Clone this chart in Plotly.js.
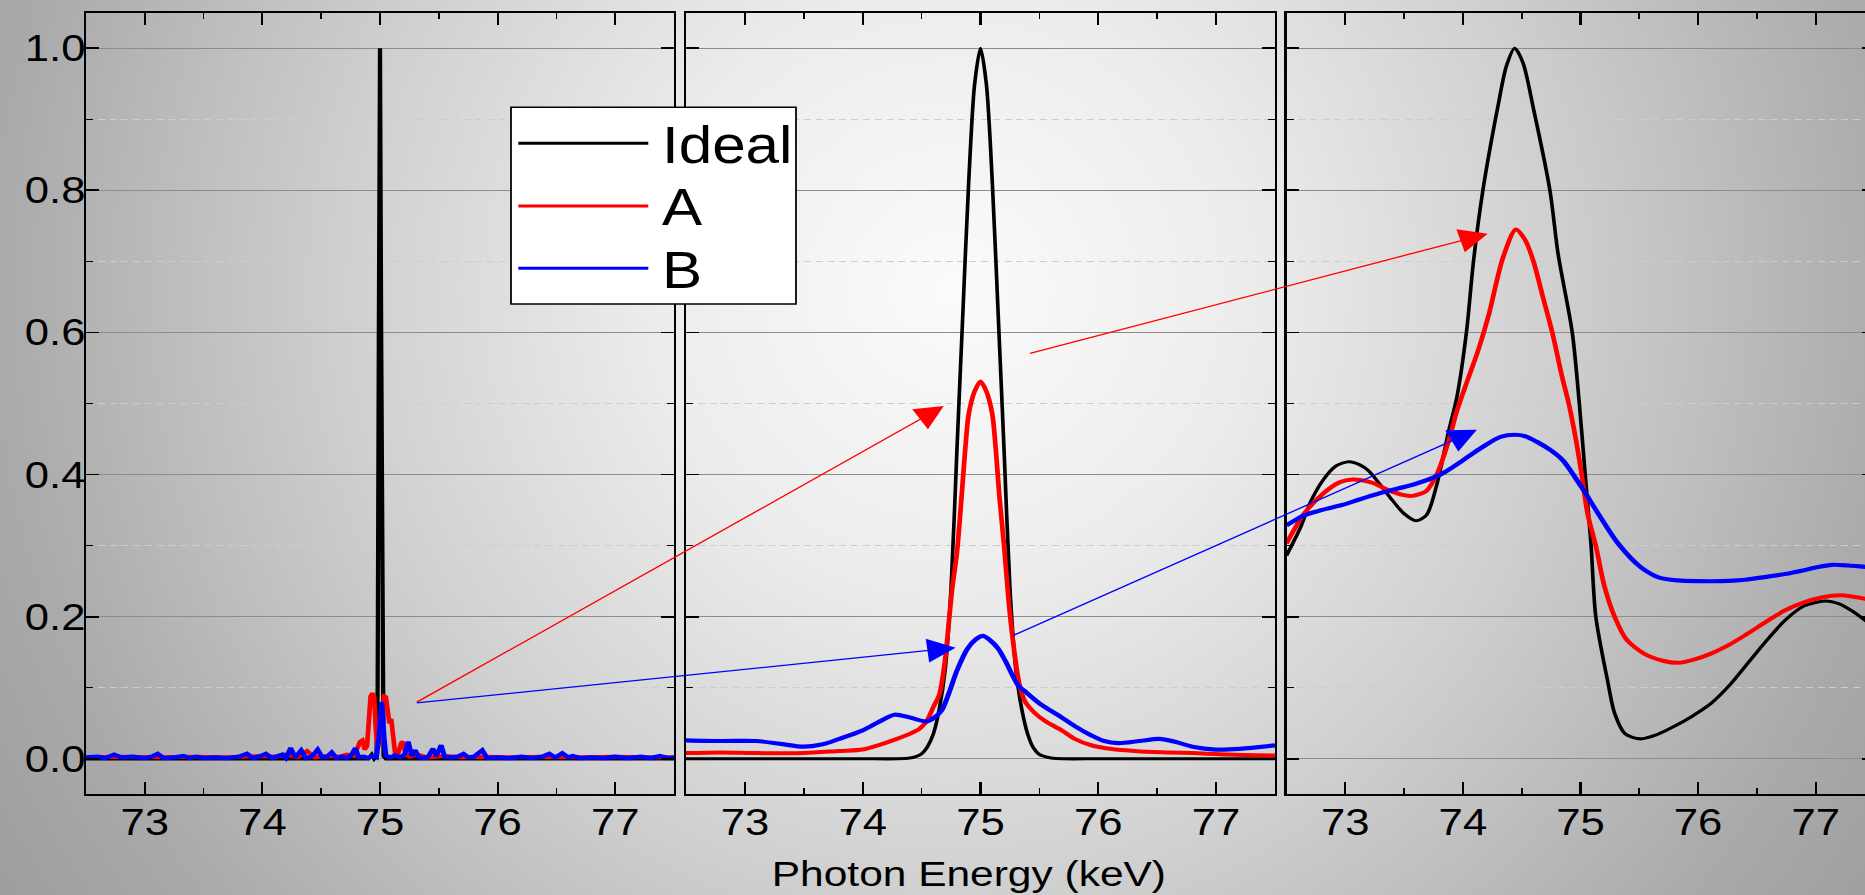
<!DOCTYPE html>
<html>
<head>
<meta charset="utf-8">
<script src="https://cdn.plot.ly/plotly-3.0.1.min.js"></script>
<style>
  html, body { margin: 0; padding: 0; overflow: hidden; background: #999; }
  #wrap {
    position: relative; width: 1865px; height: 895px; overflow: hidden;
    background: radial-gradient(circle at 950px 290px, #fbfbfb 0px, #ececec 300px, #d0d0d0 600px, #aaaaaa 950px, #959595 1250px);
  }
  #chart {
    position: absolute; left: 0; top: 0; width: 1590px; height: 895px;
    transform: scaleX(1.18); transform-origin: 0 0;
  }
</style>
</head>
<body>
<div id="wrap"><div id="chart"></div></div>
<script>
// ---------------- data ----------------
// Panel 1 – raw spectra
const p1IdealE = [72.5, 74.9, 74.93, 74.95, 74.97, 74.98, 74.99, 75.0, 75.01, 75.02, 75.03, 75.05, 75.1, 77.5];
const p1Ideal  = [0, 0, 0.006, 0, 0.004, 0.1, 0.6, 1.0, 0.6, 0.1, 0.004, 0, 0, 0];

const p1AE = [72.5, 72.8, 73.1, 73.4, 73.7, 74.0, 74.12, 74.2, 74.3, 74.38, 74.44, 74.55, 74.65, 74.72, 74.78,
  74.81, 74.83, 74.85, 74.87, 74.89, 74.905, 74.92, 74.935, 74.95, 74.965, 74.98, 75.0, 75.02, 75.035, 75.05,
  75.065, 75.08, 75.095, 75.11, 75.13, 75.155, 75.18, 75.195, 75.215, 75.25, 75.32, 75.4, 75.55, 75.7, 75.9,
  76.1, 76.4, 76.7, 77.0, 77.3, 77.5];
const p1A = [0.002, 0.003, 0.002, 0.003, 0.002, 0.004, 0.003, 0.006, 0.002, 0.011, 0.002, 0.004, 0.003, 0.006, 0.004,
  0.018, 0.024, 0.026, 0.013, 0.018, 0.06, 0.088, 0.092, 0.088, 0.04, 0.015, 0.03, 0.07, 0.088, 0.087,
  0.062, 0.05, 0.056, 0.032, 0.006, 0.008, 0.022, 0.024, 0.008, 0.003, 0.006, 0.002, 0.004, 0.002, 0.003,
  0.002, 0.003, 0.002, 0.003, 0.002, 0.002];

const p1BE = [72.5, 72.6, 72.66, 72.74, 72.8, 72.9, 73.0, 73.06, 73.11, 73.16, 73.25, 73.33, 73.38, 73.44, 73.5,
  73.6, 73.7, 73.8, 73.87, 73.92, 73.97, 74.03, 74.08, 74.13, 74.17, 74.2, 74.24, 74.28, 74.33, 74.37, 74.42,
  74.47, 74.51, 74.55, 74.59, 74.63, 74.68, 74.72, 74.76, 74.79, 74.82, 74.86, 74.9, 74.94, 74.97, 74.99,
  75.015, 75.035, 75.05, 75.09, 75.13, 75.17, 75.21, 75.24, 75.27, 75.3, 75.33, 75.37, 75.41, 75.45, 75.48,
  75.52, 75.55, 75.6, 75.66, 75.71, 75.75, 75.8, 75.87, 75.91, 76.0, 76.1, 76.2, 76.3, 76.38, 76.44, 76.49,
  76.55, 76.6, 76.64, 76.7, 76.8, 76.9, 77.0, 77.1, 77.22, 77.3, 77.38, 77.45, 77.5];
const p1B = [0.002, 0.003, 0.001, 0.006, 0.002, 0.003, 0.001, 0.003, 0.007, 0.001, 0.002, 0.004, 0.001, 0.003, 0.001,
  0.002, 0.001, 0.003, 0.007, 0.001, 0.003, 0.007, 0.001, 0.003, 0.006, 0.001, 0.015, 0.002, 0.012, 0.001, 0.003,
  0.013, 0.002, 0.003, 0.009, 0.001, 0.003, 0.001, 0.006, 0.015, 0.002, 0.003, 0.001, 0.004, 0.002, 0.03,
  0.08, 0.03, 0.004, 0.002, 0.005, 0.002, 0.006, 0.024, 0.004, 0.012, 0.002, 0.001, 0.003, 0.014, 0.004,
  0.019, 0.003, 0.002, 0.003, 0.007, 0.002, 0.003, 0.012, 0.001, 0.002, 0.001, 0.003, 0.001, 0.003, 0.007, 0.002,
  0.008, 0.002, 0.004, 0.001, 0.002, 0.001, 0.003, 0.001, 0.003, 0.001, 0.004, 0.001, 0.002];

// Panel 2 – first smoothing
const p2IdealE = [72.5, 73.0, 73.5, 74.0, 74.3, 74.4, 74.45, 74.5, 74.55, 74.6, 74.65, 74.7, 74.75, 74.8, 74.85,
  74.9, 74.95, 75.0, 75.05, 75.1, 75.15, 75.2, 75.25, 75.3, 75.35, 75.4, 75.45, 75.5, 75.55, 75.6, 75.7, 76.0,
  76.5, 77.0, 77.5];
const p2Ideal = [0, 0, 0, 0, 0, 0.001, 0.003, 0.007, 0.017, 0.035, 0.07, 0.125, 0.24, 0.435, 0.626,
  0.812, 0.949, 1.0, 0.949, 0.812, 0.626, 0.435, 0.24, 0.125, 0.07, 0.035, 0.015, 0.006, 0.003, 0.001, 0, 0,
  0, 0, 0];

const p2AE = [72.5, 72.8, 73.1, 73.5, 73.8, 74.0, 74.15, 74.29, 74.41, 74.48, 74.54, 74.6, 74.65, 74.7, 74.73,
  74.76, 74.8, 74.84, 74.87, 74.9, 74.95, 75.0, 75.05, 75.1, 75.13, 75.16, 75.2, 75.24, 75.28, 75.33, 75.38,
  75.47, 75.55, 75.69, 75.8, 75.94, 76.1, 76.33, 76.6, 76.8, 77.1, 77.5];
const p2A = [0.008, 0.009, 0.008, 0.008, 0.011, 0.013, 0.02, 0.028, 0.036, 0.042, 0.052, 0.073, 0.09, 0.14, 0.19,
  0.24, 0.29, 0.37, 0.435, 0.485, 0.517, 0.531, 0.517, 0.485, 0.435, 0.37, 0.3, 0.22, 0.16, 0.105, 0.08,
  0.063, 0.053, 0.04, 0.028, 0.019, 0.014, 0.0106, 0.009, 0.008, 0.006, 0.0046];

const p2BE = [72.5, 72.8, 73.1, 73.3, 73.5, 73.65, 73.8, 74.0, 74.15, 74.27, 74.4, 74.54, 74.6, 74.67, 74.73,
  74.8, 74.89, 74.96, 75.02, 75.08, 75.15, 75.21, 75.27, 75.32, 75.37, 75.5, 75.69, 75.8, 75.94, 76.05, 76.17,
  76.35, 76.52, 76.65, 76.8, 77.0, 77.2, 77.5];
const p2B = [0.026, 0.025, 0.025, 0.021, 0.017, 0.02, 0.028, 0.04, 0.053, 0.062, 0.058, 0.0525, 0.057, 0.068, 0.0915,
  0.124, 0.155, 0.168, 0.173, 0.167, 0.155, 0.138, 0.118, 0.103, 0.096, 0.078, 0.058, 0.046, 0.033, 0.025, 0.022,
  0.025, 0.028, 0.024, 0.017, 0.013, 0.014, 0.019];

// Panel 3 – second smoothing
const p3IdealE = [72.5, 72.62, 72.7, 72.81, 72.92, 73.03, 73.12, 73.2, 73.3, 73.38, 73.5, 73.6, 73.69, 73.78, 73.88,
  73.95, 74.03, 74.09, 74.17, 74.3, 74.37, 74.44, 74.51, 74.6, 74.74, 74.81, 74.93, 74.99, 75.04, 75.09, 75.13,
  75.23, 75.29, 75.38, 75.51, 75.65, 75.79, 75.95, 76.11, 76.27, 76.42, 76.58, 76.74, 76.9, 77.08, 77.2, 77.3,
  77.42, 77.5];
const p3Ideal = [0.286, 0.326, 0.36, 0.392, 0.412, 0.418, 0.414, 0.405, 0.385, 0.368, 0.345, 0.335, 0.343, 0.387, 0.462,
  0.51, 0.6, 0.7, 0.8, 0.92, 0.975, 1.0, 0.98, 0.915, 0.8, 0.71, 0.6, 0.5, 0.4, 0.3, 0.2,
  0.11, 0.064, 0.035, 0.028, 0.034, 0.045, 0.06, 0.078, 0.104, 0.134, 0.166, 0.195, 0.215, 0.222, 0.218, 0.209,
  0.195, 0.185];

const p3AE = [72.5, 72.65, 72.81, 72.95, 73.06, 73.22, 73.38, 73.5, 73.57, 73.69, 73.78, 73.88, 73.95, 74.04, 74.13,
  74.22, 74.34, 74.45, 74.53, 74.6, 74.68, 74.76, 74.84, 74.9, 74.96, 75.01, 75.06, 75.13, 75.2, 75.29, 75.39,
  75.54, 75.7, 75.83, 75.97, 76.11, 76.27, 76.42, 76.58, 76.74, 76.9, 77.05, 77.21, 77.32, 77.42, 77.5];
const p3A = [0.303, 0.345, 0.373, 0.389, 0.393, 0.389, 0.377, 0.371, 0.37, 0.377, 0.401, 0.448, 0.49, 0.533, 0.575,
  0.625, 0.705, 0.745, 0.73, 0.7, 0.65, 0.6, 0.54, 0.5, 0.45, 0.4, 0.345, 0.3, 0.245, 0.2, 0.168,
  0.148, 0.138, 0.135, 0.14, 0.148, 0.161, 0.176, 0.193, 0.209, 0.22, 0.227, 0.23, 0.228, 0.225, 0.222];

const p3BE = [72.5, 72.65, 72.8, 72.97, 73.12, 73.28, 73.44, 73.6, 73.82, 74.0, 74.16, 74.32, 74.44, 74.53, 74.63,
  74.74, 74.85, 75.01, 75.17, 75.32, 75.51, 75.67, 75.83, 76.0, 76.2, 76.4, 76.58, 76.74, 76.89, 77.02, 77.14,
  77.28, 77.42, 77.5];
const p3B = [0.3285, 0.3426, 0.35, 0.357, 0.365, 0.373, 0.38, 0.387, 0.401, 0.42, 0.438, 0.453, 0.456, 0.454, 0.446,
  0.435, 0.42, 0.382, 0.34, 0.303, 0.27, 0.255, 0.251, 0.25, 0.25, 0.252, 0.256, 0.26, 0.265, 0.27, 0.273,
  0.272, 0.27, 0.269];

const seriesNames = ['Ideal', 'A', 'B'];
const xTitle = 'Photon Energy (keV)';

// ---------------- styling ----------------
const FONT = 'Liberation Sans, Arial, Helvetica, sans-serif';
const COLORS = {Ideal: '#000000', A: '#ff0000', B: '#0000ff'};
const WIDTHS_RAW = {Ideal: 3.6, A: 4, B: 4.2};
const WIDTHS = {Ideal: 3.1, A: 4, B: 4.2};
const FINAL_W = 1590 * 1.18;           // rendered width after horizontal stretch
const H = 895;
const fx = px => px / FINAL_W;         // paper fraction from final pixel x
const fy = py => 1 - py / H;           // paper fraction from pixel y

function line(name, xs, ys, xa, ya, shape, widths) {
  return {type: 'scatter', mode: 'lines', name: name, x: xs, y: ys, xaxis: xa, yaxis: ya,
    showlegend: false, hoverinfo: 'skip',
    line: {color: COLORS[name], width: widths[name], shape: shape, smoothing: 0.8}};
}

const traces = [
  line('Ideal', p1IdealE, p1Ideal, 'x', 'y', 'linear', WIDTHS_RAW),
  line('A', p1AE, p1A, 'x', 'y', 'linear', WIDTHS_RAW),
  line('B', p1BE, p1B, 'x', 'y', 'linear', WIDTHS_RAW),
  line('Ideal', p2IdealE, p2Ideal, 'x2', 'y2', 'spline', WIDTHS),
  line('A', p2AE, p2A, 'x2', 'y2', 'spline', WIDTHS),
  line('B', p2BE, p2B, 'x2', 'y2', 'spline', WIDTHS),
  line('Ideal', p3IdealE, p3Ideal, 'x3', 'y3', 'spline', WIDTHS),
  line('A', p3AE, p3A, 'x3', 'y3', 'spline', WIDTHS),
  line('B', p3BE, p3B, 'x3', 'y3', 'spline', WIDTHS)
];

const yDom = [fy(794.3), fy(12.7)];

function xAxis(dom, anchor) {
  return {
    domain: dom, anchor: anchor, range: [72.5, 77.5], tick0: 73, dtick: 1,
    ticks: 'inside', ticklen: 12, tickwidth: 1.8, tickcolor: '#000',
    showline: true, linecolor: '#000', linewidth: 2, mirror: 'ticks',
    showgrid: false, zeroline: false, fixedrange: true,
    tickfont: {family: FONT, size: 37, color: '#000'}, ticklabelstandoff: -6,
    minor: {dtick: 0.5, ticks: 'inside', ticklen: 6, tickwidth: 1.5, tickcolor: '#000', showgrid: false}
  };
}
function yAxis(anchor, labels) {
  return {
    domain: yDom, anchor: anchor, range: [-0.05, 1.05], tick0: 0, dtick: 0.2, tickformat: '.1f',
    ticks: 'inside', ticklen: 11, tickwidth: 1.8, tickcolor: '#000',
    showline: true, linecolor: '#000', linewidth: 2, mirror: 'ticks',
    showgrid: true, gridcolor: '#8c8c8c', gridwidth: 1.4, zeroline: false, fixedrange: true,
    showticklabels: labels, tickfont: {family: FONT, size: 37, color: '#000'}, ticklabelstandoff: -9,
    minor: {dtick: 0.1, ticks: 'inside', ticklen: 6, tickwidth: 1.5, tickcolor: '#000',
            showgrid: true, gridcolor: '#cdcdcd', gridwidth: 1, griddash: '6px,4px'}
  };
}

// arrows linking the panels (heads/tails in axis units of the target panel)
const arrowSpec = [
  {color: '#ff0000', ref: 'x2', yref: 'y2', x: 74.688, y: 0.4964, ax: 70.2, ay: 0.0783},
  {color: '#0000ff', ref: 'x2', yref: 'y2', x: 74.789, y: 0.1563, ax: 70.2, ay: 0.0783},
  {color: '#ff0000', ref: 'x3', yref: 'y3', x: 74.211, y: 0.739, ax: 70.304, ay: 0.570},
  {color: '#0000ff', ref: 'x3', yref: 'y3', x: 74.119, y: 0.463, ax: 70.157, ay: 0.1722}
];
const annotations = arrowSpec.map(a => ({
  xref: a.ref, yref: a.yref, axref: a.ref, ayref: a.yref,
  x: a.x, y: a.y, ax: a.ax, ay: a.ay, text: '', showarrow: true,
  arrowhead: 2, arrowsize: 3.7, arrowwidth: 1.3, arrowcolor: a.color, standoff: 0, startstandoff: 0
}));

// x-axis title under the middle panel
annotations.push({xref: 'paper', yref: 'paper', x: fx(968.8), y: fy(873), xanchor: 'center', yanchor: 'middle',
  text: xTitle, showarrow: false, font: {family: FONT, size: 36, color: '#000'}});

// legend (drawn box, sample lines and labels)
const legendRows = [143.3, 206, 268.3];
const shapes = [
  {type: 'rect', xref: 'paper', yref: 'paper', x0: fx(511), x1: fx(796), y0: fy(304), y1: fy(107.3),
   fillcolor: '#ffffff', line: {color: '#000', width: 1.5}, layer: 'above'}
];
seriesNames.forEach((n, i) => {
  shapes.push({type: 'line', xref: 'paper', yref: 'paper', x0: fx(518.3), x1: fx(648.3),
    y0: fy(legendRows[i]), y1: fy(legendRows[i]), line: {color: COLORS[n], width: 3}, layer: 'above'});
  annotations.push({xref: 'paper', yref: 'paper', x: fx(660), y: fy(legendRows[i] + 2), xanchor: 'left',
    yanchor: 'middle', text: n, showarrow: false, font: {family: FONT, size: 51, color: '#000'}});
});

const layout = {
  width: 1590, height: H,
  margin: {l: 0, r: 0, t: 0, b: 0, pad: 0},
  paper_bgcolor: 'rgba(0,0,0,0)', plot_bgcolor: 'rgba(0,0,0,0)',
  showlegend: false,
  font: {family: FONT, color: '#000'},
  xaxis: xAxis([fx(86), fx(674)], 'y'),
  xaxis2: xAxis([fx(686), fx(1275)], 'y2'),
  xaxis3: xAxis([fx(1286.5), fx(1874.5)], 'y3'),
  yaxis: yAxis('x', true),
  yaxis2: yAxis('x2', false),
  yaxis3: yAxis('x3', false),
  shapes: shapes,
  annotations: annotations
};

Plotly.newPlot('chart', traces, layout, {staticPlot: true, displayModeBar: false});
</script>
</body>
</html>
